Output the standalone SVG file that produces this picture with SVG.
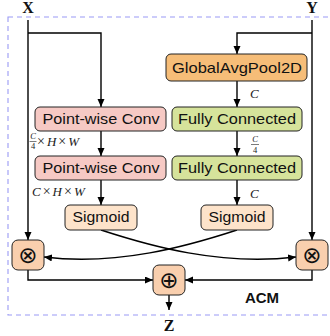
<svg xmlns="http://www.w3.org/2000/svg" width="330" height="336" viewBox="0 0 330 336">
<defs>
<marker id="ah" markerUnits="userSpaceOnUse" markerWidth="9" markerHeight="8" refX="8" refY="3.5" orient="auto">
<path d="M0,0 L8,3.5 L0,7 z" fill="#000"/>
</marker>
<style>
.box{stroke:#222;stroke-width:1;}
.lbl{font-family:"Liberation Sans","DejaVu Sans",sans-serif;font-size:14.5px;fill:#111;text-anchor:middle;}
.var{font-family:"Liberation Serif",serif;font-weight:bold;font-size:16px;fill:#111;text-anchor:middle;}
.math{font-family:"Liberation Serif",serif;font-size:13px;fill:#222;}
.it{font-style:italic;}
.x{font-size:14px;}
.frac{font-family:"Liberation Serif",serif;font-size:8.5px;fill:#222;text-anchor:middle;}
.op{font-family:"DejaVu Sans",sans-serif;font-size:23px;fill:#111;text-anchor:middle;}
.conn{fill:none;stroke:#000;stroke-width:1.4;}
</style>
</defs>
<rect x="8" y="17" width="330" height="298" fill="none" stroke="#9a9af5" stroke-width="1.1" stroke-dasharray="5,4"/>

<g id="connectors">
<path class="conn" d="M28,20 V240" marker-end="url(#ah)"/>
<path class="conn" d="M28,33 H101 V107" marker-end="url(#ah)"/>
<path class="conn" d="M312,20 V240" marker-end="url(#ah)"/>
<path class="conn" d="M312,33 H237 V54" marker-end="url(#ah)"/>
<path class="conn" d="M101,131 V156" marker-end="url(#ah)"/>
<path class="conn" d="M101,180 V205" marker-end="url(#ah)"/>
<path class="conn" d="M237,81 V107" marker-end="url(#ah)"/>
<path class="conn" d="M237,131 V156" marker-end="url(#ah)"/>
<path class="conn" d="M237,180 V205" marker-end="url(#ah)"/>
<path class="conn" d="M101,230 C150,246 220,266 296,257" marker-end="url(#ah)"/>
<path class="conn" d="M237,230 C188,246 118,266 44,257" marker-end="url(#ah)"/>
<path class="conn" d="M28,270 V280 H153" marker-end="url(#ah)"/>
<path class="conn" d="M312,270 V280 H185" marker-end="url(#ah)"/>
<path class="conn" d="M169,295 V310" marker-end="url(#ah)"/>
</g>

<g id="X"><text class="var" x="28" y="13">X</text></g>
<g id="Y"><text class="var" x="312" y="13">Y</text></g>
<g id="Z"><text class="var" x="169" y="331">Z</text></g>

<g id="pwconv1">
<rect class="box" x="35" y="107" width="131" height="24" rx="5" fill="#f6c9c4"/>
<text class="lbl" x="101" y="124" textLength="117" lengthAdjust="spacingAndGlyphs">Point-wise Conv</text>
</g>
<g id="pwconv2">
<rect class="box" x="35" y="156" width="131" height="24" rx="5" fill="#f6c9c4"/>
<text class="lbl" x="101" y="173" textLength="117" lengthAdjust="spacingAndGlyphs">Point-wise Conv</text>
</g>
<g id="sigmoid1">
<rect class="box" x="65" y="205" width="72" height="25" rx="5" fill="#fde3ca"/>
<text class="lbl" x="101" y="222" textLength="57" lengthAdjust="spacingAndGlyphs">Sigmoid</text>
</g>
<g id="gap">
<rect class="box" x="166" y="54" width="141" height="27" rx="5" fill="#f6bd78"/>
<text class="lbl" x="237" y="72.5" textLength="130" lengthAdjust="spacingAndGlyphs">GlobalAvgPool2D</text>
</g>
<g id="fc1">
<rect class="box" x="172" y="107" width="130" height="24" rx="5" fill="#d6e39b"/>
<text class="lbl" x="237" y="124" textLength="118" lengthAdjust="spacingAndGlyphs">Fully Connected</text>
</g>
<g id="fc2">
<rect class="box" x="172" y="156" width="130" height="24" rx="5" fill="#d6e39b"/>
<text class="lbl" x="237" y="173" textLength="118" lengthAdjust="spacingAndGlyphs">Fully Connected</text>
</g>
<g id="sigmoid2">
<rect class="box" x="201" y="205" width="72" height="25" rx="5" fill="#fde3ca"/>
<text class="lbl" x="237" y="222" textLength="57" lengthAdjust="spacingAndGlyphs">Sigmoid</text>
</g>
<g id="mul1">
<rect class="box" x="12" y="240" width="32" height="30" rx="6" fill="#f9cfae"/>
<text class="op" x="28" y="263">⊗</text>
</g>
<g id="mul2">
<rect class="box" x="296" y="240" width="32" height="30" rx="6" fill="#f9cfae"/>
<text class="op" x="312" y="263">⊗</text>
</g>
<g id="add">
<rect class="box" x="153" y="265" width="32" height="30" rx="6" fill="#f9cfae"/>
<text class="op" x="169" y="288">⊕</text>
</g>
<g id="acm"><text x="262" y="303" font-family="Liberation Sans, sans-serif" font-weight="bold" font-size="15" text-anchor="middle" fill="#111">ACM</text></g>

<g id="labels">
<text class="math it" x="250" y="98">C</text>
<text class="frac it" x="255" y="142">C</text>
<line x1="251" y1="144.5" x2="259" y2="144.5" stroke="#222" stroke-width="0.6"/>
<text class="frac" x="255" y="152.5">4</text>
<text class="math it" x="250" y="198">C</text>
<text class="frac it" x="33" y="139">C</text>
<line x1="29.5" y1="141.5" x2="36.5" y2="141.5" stroke="#222" stroke-width="0.6"/>
<text class="frac" x="33" y="149">4</text>
<text class="math" x="37" y="146"><tspan class="x">×</tspan><tspan class="it" dx="2">H</tspan><tspan class="x" dx="2">×</tspan><tspan class="it" dx="2">W</tspan></text>
<text class="math" x="32" y="196"><tspan class="it">C</tspan><tspan class="x" dx="2">×</tspan><tspan class="it" dx="2">H</tspan><tspan class="x" dx="2">×</tspan><tspan class="it" dx="2">W</tspan></text>
</g>
</svg>
